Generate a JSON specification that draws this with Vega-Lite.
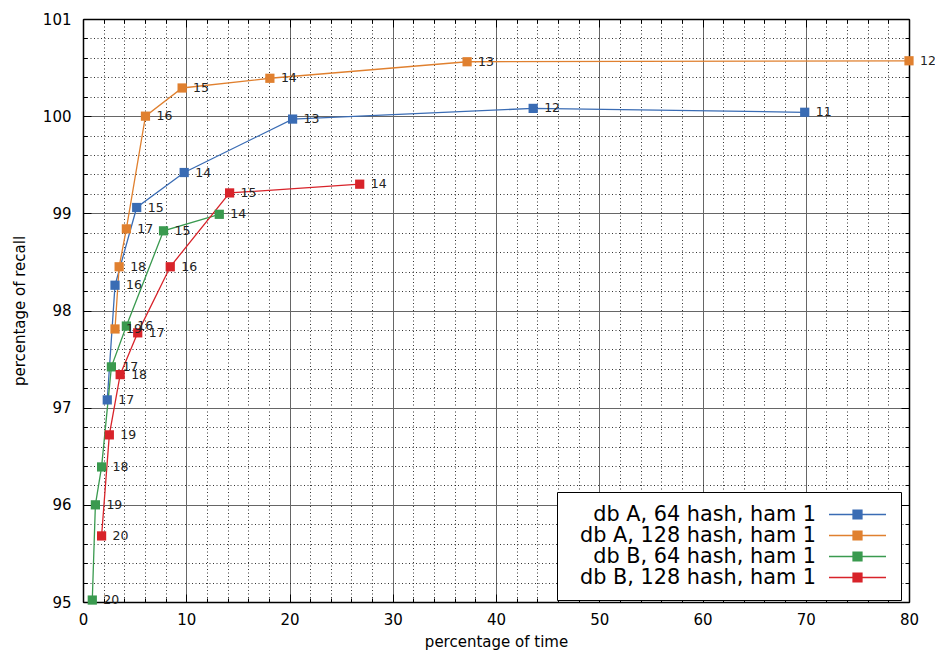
{
  "$schema": "https://vega.github.io/schema/vega-lite/v6.json",
  "width": 826,
  "height": 583,
  "autosize": {"type": "none"},
  "padding": {"left": 83, "top": 19, "right": 26, "bottom": 48},
  "background": "white",
  "config": {
    "view": {"stroke": null},
    "font": "DejaVu Sans",
    "axis": {"labelFont": "DejaVu Sans", "titleFont": "DejaVu Sans", "labelColor": "#000", "titleColor": "#000", "tickColor": "#000", "domainColor": "#000"}
  },
  "data": {
    "values": [
      {"series": "db A, 64 hash, ham 1", "time": 69.9, "recall": 100.04, "bits": 11},
      {"series": "db A, 64 hash, ham 1", "time": 43.6, "recall": 100.08, "bits": 12},
      {"series": "db A, 64 hash, ham 1", "time": 20.3, "recall": 99.97, "bits": 13},
      {"series": "db A, 64 hash, ham 1", "time": 9.8, "recall": 99.42, "bits": 14},
      {"series": "db A, 64 hash, ham 1", "time": 5.2, "recall": 99.06, "bits": 15},
      {"series": "db A, 64 hash, ham 1", "time": 3.1, "recall": 98.26, "bits": 16},
      {"series": "db A, 64 hash, ham 1", "time": 2.35, "recall": 97.08, "bits": 17},
      {"series": "db A, 128 hash, ham 1", "time": 80.0, "recall": 100.57, "bits": 12},
      {"series": "db A, 128 hash, ham 1", "time": 37.2, "recall": 100.56, "bits": 13},
      {"series": "db A, 128 hash, ham 1", "time": 18.1, "recall": 100.39, "bits": 14},
      {"series": "db A, 128 hash, ham 1", "time": 9.6, "recall": 100.29, "bits": 15},
      {"series": "db A, 128 hash, ham 1", "time": 6.05, "recall": 100.0, "bits": 16},
      {"series": "db A, 128 hash, ham 1", "time": 4.2, "recall": 98.84, "bits": 17},
      {"series": "db A, 128 hash, ham 1", "time": 3.5, "recall": 98.45, "bits": 18},
      {"series": "db A, 128 hash, ham 1", "time": 3.1, "recall": 97.81, "bits": 19},
      {"series": "db B, 64 hash, ham 1", "time": 13.2, "recall": 98.99, "bits": 14},
      {"series": "db B, 64 hash, ham 1", "time": 7.8, "recall": 98.82, "bits": 15},
      {"series": "db B, 64 hash, ham 1", "time": 4.2, "recall": 97.84, "bits": 16},
      {"series": "db B, 64 hash, ham 1", "time": 2.75, "recall": 97.42, "bits": 17},
      {"series": "db B, 64 hash, ham 1", "time": 1.8, "recall": 96.39, "bits": 18},
      {"series": "db B, 64 hash, ham 1", "time": 1.2, "recall": 96.0, "bits": 19},
      {"series": "db B, 64 hash, ham 1", "time": 0.9, "recall": 95.02, "bits": 20},
      {"series": "db B, 128 hash, ham 1", "time": 26.8, "recall": 99.3, "bits": 14},
      {"series": "db B, 128 hash, ham 1", "time": 14.2, "recall": 99.21, "bits": 15},
      {"series": "db B, 128 hash, ham 1", "time": 8.45, "recall": 98.45, "bits": 16},
      {"series": "db B, 128 hash, ham 1", "time": 5.3, "recall": 97.77, "bits": 17},
      {"series": "db B, 128 hash, ham 1", "time": 3.6, "recall": 97.34, "bits": 18},
      {"series": "db B, 128 hash, ham 1", "time": 2.55, "recall": 96.72, "bits": 19},
      {"series": "db B, 128 hash, ham 1", "time": 1.8, "recall": 95.68, "bits": 20}
    ]
  },
  "resolve": {
    "scale": {"x": "independent", "y": "independent"},
    "axis": {"x": "independent", "y": "independent"}
  },
  "layer": [
    {
      "mark": {"type": "line", "strokeWidth": 1.3, "clip": false},
      "encoding": {
        "x": {"field": "time", "type": "quantitative", "scale": {"domain": [0, 80], "nice": false, "zero": false},
          "axis": {"orient": "bottom", "values": [2,4,6,8,12,14,16,18,22,24,26,28,32,34,36,38,42,44,46,48,52,54,56,58,62,64,66,68,72,74,76,78],
            "grid": true, "gridDash": [1, 2.5], "gridColor": "#000", "gridOpacity": 0.8, "gridWidth": 1,
            "labels": false, "domain": false, "ticks": true, "tickSize": -4, "title": null}},
        "y": {"field": "recall", "type": "quantitative", "scale": {"domain": [95, 101], "nice": false, "zero": false},
          "axis": {"orient": "left", "values": [95.2,95.4,95.6,95.8,96.2,96.4,96.6,96.8,97.2,97.4,97.6,97.8,98.2,98.4,98.6,98.8,99.2,99.4,99.6,99.8,100.2,100.4,100.6,100.8],
            "grid": true, "gridDash": [1, 2.5], "gridColor": "#000", "gridOpacity": 0.8, "gridWidth": 1,
            "labels": false, "domain": false, "ticks": true, "tickSize": -4, "title": null}},
        "color": {"field": "series", "type": "nominal",
          "scale": {"domain": ["db A, 64 hash, ham 1", "db A, 128 hash, ham 1", "db B, 64 hash, ham 1", "db B, 128 hash, ham 1"],
            "range": ["#3a6cb4", "#e0802f", "#3a9a4f", "#d8232a"]},
          "legend": {"orient": "none", "legendX": 474, "legendY": 473, "title": null,
            "labelFont": "DejaVu Sans", "labelFontSize": 20.8, "labelColor": "#000", "labelAlign": "right", "labelOffset": -52, "labelLimit": 500,
            "symbolOffset": 278, "symbolType": "M-3,0H3M-0.47,-0.47H0.47V0.47H-0.47Z", "symbolSize": 361, "symbolStrokeWidth": 1.3,
            "strokeColor": "#000", "fillColor": "white", "padding": 12, "rowPadding": -3,
            "encode": {"symbols": {"update": {"fill": {"scale": "color", "field": "value"}, "stroke": {"scale": "color", "field": "value"}, "strokeWidth": {"value": 1.3}, "opacity": {"value": 1}}}}}},
        "order": {"field": "bits", "sort": "descending"}
      }
    },
    {
      "mark": {"type": "square", "size": 85, "filled": true, "opacity": 1, "clip": false},
      "encoding": {
        "x": {"field": "time", "type": "quantitative", "scale": {"domain": [0, 80], "nice": false, "zero": false},
          "axis": {"orient": "bottom", "values": [0,10,20,30,40,50,60,70,80],
            "grid": true, "gridColor": "#666", "gridWidth": 1, "domain": true, "domainWidth": 1.5,
            "ticks": true, "tickSize": -8, "labelPadding": 18, "labelFontSize": 15, "labelFlush": false,
            "title": "percentage of time", "titleFontSize": 15, "titleFontWeight": "normal", "titlePadding": 7}},
        "y": {"field": "recall", "type": "quantitative", "scale": {"domain": [95, 101], "nice": false, "zero": false},
          "axis": {"orient": "left", "values": [95,96,97,98,99,100,101],
            "grid": true, "gridColor": "#666", "gridWidth": 1, "domain": true, "domainWidth": 1.5,
            "ticks": true, "tickSize": -8, "labelPadding": 20, "labelFontSize": 15, "labelFlush": false,
            "title": "percentage of recall", "titleFontSize": 15, "titleFontWeight": "normal", "titlePadding": 15}},
        "color": {"field": "series", "type": "nominal"}
      }
    },
    {
      "mark": {"type": "text", "align": "left", "baseline": "middle", "dx": 11, "fontSize": 12.5, "color": "#222", "clip": false},
      "encoding": {
        "x": {"field": "time", "type": "quantitative", "scale": {"domain": [0, 80], "nice": false, "zero": false},
          "axis": {"orient": "top", "values": [0,10,20,30,40,50,60,70,80], "grid": false, "labels": false,
            "domain": true, "domainWidth": 1.5, "ticks": true, "tickSize": -8, "title": null}},
        "y": {"field": "recall", "type": "quantitative", "scale": {"domain": [95, 101], "nice": false, "zero": false},
          "axis": {"orient": "right", "values": [95,96,97,98,99,100,101], "grid": false, "labels": false,
            "domain": true, "domainWidth": 1.5, "ticks": true, "tickSize": -8, "title": null}},
        "text": {"field": "bits", "type": "nominal"}
      }
    },
    {
      "mark": {"type": "point", "opacity": 0},
      "encoding": {
        "x": {"field": "time", "type": "quantitative", "scale": {"domain": [0, 80], "nice": false, "zero": false},
          "axis": {"orient": "top", "values": [2,4,6,8,12,14,16,18,22,24,26,28,32,34,36,38,42,44,46,48,52,54,56,58,62,64,66,68,72,74,76,78],
            "grid": false, "labels": false, "domain": false, "ticks": true, "tickSize": -4, "title": null}},
        "y": {"field": "recall", "type": "quantitative", "scale": {"domain": [95, 101], "nice": false, "zero": false},
          "axis": {"orient": "right", "values": [95.2,95.4,95.6,95.8,96.2,96.4,96.6,96.8,97.2,97.4,97.6,97.8,98.2,98.4,98.6,98.8,99.2,99.4,99.6,99.8,100.2,100.4,100.6,100.8],
            "grid": false, "labels": false, "domain": false, "ticks": true, "tickSize": -4, "title": null}}
      }
    }
  ]
}
